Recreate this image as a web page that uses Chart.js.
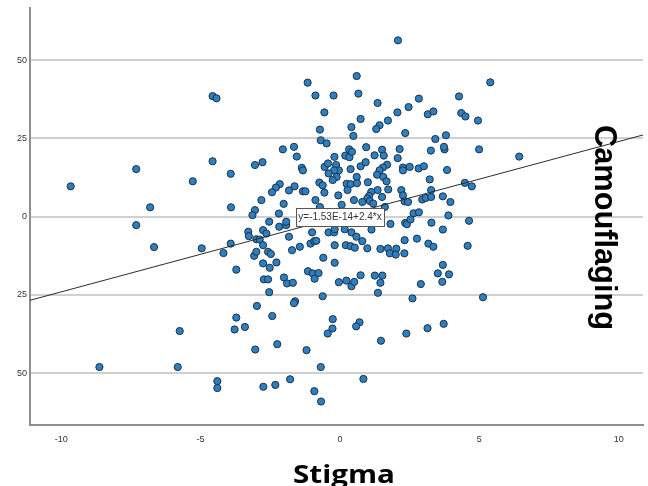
<!DOCTYPE html>
<html>
<head>
<meta charset="utf-8">
<script src="https://cdn.jsdelivr.net/npm/chart.js@4/dist/chart.umd.min.js"></script>
<style>
html, body { margin: 0; padding: 0; background: #fff; }
canvas { display: block; }
</style>
</head>
<body>
<canvas id="grafico" width="648" height="486"></canvas>
<script>
// valores (Stigma en x, Camouflaging en y)
const stigma = [
    -9.66, -7.31, -6.81, -7.31, -5.28, -4.57, -4.43, -4.57, -6.67, -4.96, -5.75, -8.63, -5.82, -4.40, -4.40,
    -1.16, -0.88, -0.23, -0.56, -0.72, 0.41, -0.69, -0.48, -2.05, -1.65, -1.55, 0.33, 0.19, 0.34, -0.20,
    -3.05, -2.78, -3.92, -1.37, -1.33, -0.55, -0.43, -0.14, -0.04, -0.21, -0.41, -0.12, -0.26, 0.38,
    -2.16, -2.30, -2.44, -1.83, -1.63, -1.33, -1.24, -0.74, -0.62, -0.56, -0.06, 0.24, 0.38, 0.27,
    -2.82, -2.02, -3.91, -0.88, 0.06, -3.05, -3.14, -2.19, -0.72,
    2.08, 0.60, 0.66, 5.39, 1.35, 2.83, 4.27, 2.46, 2.06, 3.15, 3.35, 4.35, 4.50, 4.95, 0.74, 1.72,
    1.42, 1.30, 0.48, 2.34, 3.42, 3.80, 0.43, 0.94, 1.51, 1.57, 1.24, 2.14, 2.07, 3.26, 3.75, 3.73,
    4.99, 6.43, 0.74, 0.92, 1.69, 1.54, 1.42, 1.33, 1.55, 1.67, 2.26, 2.26, 2.50, 2.82, 3.01, 3.84,
    3.22, 0.60, 0.61, 1.00, 1.73, 2.20, 2.26, 2.32, 2.44, 1.35, 1.12, 1.04, 0.98, 1.51, 0.80, 1.07,
    1.19, 1.61, 2.95, 3.08, 3.27, 3.27, 3.69, 3.96, 4.48, 4.73, 2.64, 2.83, 3.89, 0.50,
    -2.54, -2.18, -1.93, -1.93, -3.29, -3.27, -2.76, -2.64, -3.00, -2.88, -2.76, -3.92, -4.18, -3.08,
    -3.00, -2.58, -2.48, -2.76, -2.28, -2.52, -3.72, -1.83, -1.72, -1.44, -1.06, -0.92, -0.85, -0.60,
    -0.19, 0.21, 0.38, -0.19, -1.00, -0.41, -0.21, -0.19, 0.17, 0.41, -2.73, -2.58, -2.54, -2.01,
    -1.90, -1.69, -1.15, -0.98, -0.77, -0.91, -0.04, 0.23, 0.41, -0.62, -2.98, -1.61, -1.65, -2.43,
    -3.72, -3.78, -3.41, -0.26, -0.27, -0.44, -3.04, -2.25, -1.20, -0.69, -2.75, -2.32, -1.79, -0.92, -0.68,
    4.63, 1.81, 2.34, 2.40, 2.53, 3.28, 3.69, 1.13, 0.59, 0.80, 0.53, 1.45, 1.72, 2.02, 1.79, 2.00,
    2.31, 2.32, 2.76, 3.17, 3.35, 4.58, 3.69, 3.51, 3.91, 3.67, 2.90, 2.60, 5.13, 0.51, 0.74, 1.25,
    1.52, 1.45, 1.36, 0.70, 0.58, 1.47, 2.38, 3.14, 3.72, 0.84, 0.98
];
const camouflaging = [
    9.7, 15.2, 3.0, -2.7, 11.3, 38.5, 37.8, 17.7, -9.7, -10.1, -36.5, -48.0, -48.0, -52.5, -54.7,
    42.8, 38.7, 38.7, 33.3, 27.8, 28.6, 24.4, 23.4, 21.5, 22.3, 19.2, 21.5, 19.5, 19.0, 19.1,
    16.5, 17.4, 13.7, 15.6, 14.8, 15.9, 17.0, 16.5, 14.8, 14.8, 13.8, 12.7, 11.7, 15.2,
    10.4, 9.3, 7.8, 8.4, 9.7, 8.1, 8.1, 10.9, 10.0, 7.7, 6.8, 10.5, 10.4, 8.5,
    5.3, 4.1, 3.0, 5.3, 3.8, 2.1, 0.5, 1.0, 3.1,
    56.3, 44.9, 39.3, 42.9, 36.3, 37.7, 38.4, 35.0, 33.3, 32.7, 33.6, 33.1, 32.0, 30.7, 31.2, 30.7,
    29.2, 28.0, 25.8, 26.7, 24.8, 26.0, 20.7, 22.2, 21.4, 19.5, 19.6, 21.6, 18.7, 21.1, 21.5, 22.3,
    21.5, 19.2, 16.1, 17.4, 16.6, 15.7, 14.8, 13.4, 12.7, 11.3, 15.7, 14.8, 15.9, 15.4, 16.1, 14.9,
    11.9, 12.7, 10.7, 11.0, 8.7, 8.5, 6.8, 4.9, 4.7, 8.5, 7.9, 6.6, 5.8, 6.3, 4.7, 5.0,
    4.2, 3.1, 5.5, 6.0, 6.3, 8.5, 6.5, 4.7, 10.8, 9.7, 1.1, 1.4, 0.4, 5.3,
    -1.6, -3.2, -2.7, -1.6, -4.8, -6.2, -4.3, -5.4, -7.2, -7.3, -9.1, -8.6, -11.6, -12.5,
    -11.2, -11.2, -11.9, -14.9, -14.6, -16.3, -16.9, -6.4, -10.7, -9.6, -8.6, -7.8, -7.7, -13.1,
    -9.1, -9.1, -9.4, -14.7, -5.0, -5.0, -5.0, -4.0, -4.0, -5.0, -20.0, -20.0, -24.1, -19.4,
    -21.3, -21.1, -17.4, -18.1, -18.0, -19.8, -20.9, -20.4, -22.2, -25.4, -28.5, -27.0, -27.6, -31.7,
    -32.2, -36.0, -35.2, -32.7, -35.7, -37.3, -42.4, -40.7, -42.6, -48.0, -54.3, -53.7, -51.9, -55.7, -59.0,
    -1.3, -2.3, -2.0, -2.4, -0.9, -1.9, -4.1, -4.1, -6.4, -7.8, -9.9, -10.3, -10.1, -10.2, -11.7, -12.1,
    -11.7, -7.5, -7.0, -8.6, -9.6, -9.3, -15.4, -18.1, -18.4, -20.8, -21.5, -26.1, -25.7, -20.8, -18.7, -18.8,
    -18.8, -21.1, -24.3, -33.7, -35.0, -39.6, -37.3, -35.6, -34.2, -51.8, -10.1
];

const xTicks = [-10, -5, 0, 5, 10];
const xTickLabels = ['-10', '-5', '0', '5', '10'];
const yTicks = [-50, -25, 0, 25, 50];
const yTickLabels = ['50', '25', '0', '25', '50'];
const xRange = [-11.12, 10.87];
const yRange = [-66.5, 66.5];

const regIntercept = -1.53e-14;
const regSlope = 2.4;
const regLabel = 'y=-1.53E-14+2.4*x';
const xTitle = 'Stigma';
const yTitle = 'Camouflaging';

const puntos = stigma.map((v, i) => ({ x: v, y: camouflaging[i] }));
const recta = xRange.map(v => ({ x: v, y: regIntercept + regSlope * v }));

const textos = {
    id: 'textos',
    afterDatasetsDraw(chart) {
        const ctx = chart.ctx;
        const cx = chart.scales.x.getPixelForValue(0);
        const cy = chart.scales.y.getPixelForValue(regIntercept);
        ctx.save();
        ctx.font = '10px "Liberation Sans", Arial, sans-serif';
        const w = ctx.measureText(regLabel).width + 5;
        const h = 18;
        ctx.fillStyle = '#fff';
        ctx.strokeStyle = '#555';
        ctx.lineWidth = 1;
        ctx.fillRect(Math.round(cx - w / 2) + 0.5, Math.round(cy - h / 2) + 0.5, Math.round(w), h);
        ctx.strokeRect(Math.round(cx - w / 2) + 0.5, Math.round(cy - h / 2) + 0.5, Math.round(w), h);
        ctx.fillStyle = '#333';
        ctx.textAlign = 'center';
        ctx.textBaseline = 'middle';
        ctx.fillText(regLabel, cx, cy + 1);
        ctx.restore();
    },
    afterDraw(chart) {
        const ctx = chart.ctx;
        ctx.save();
        ctx.fillStyle = '#000';
        // titulo vertical
        ctx.font = 'bold 31px "Liberation Sans", Arial, sans-serif';
        ctx.translate(595, 125);
        ctx.rotate(Math.PI / 2);
        ctx.textAlign = 'left';
        ctx.textBaseline = 'alphabetic';
        const wy = ctx.measureText(yTitle).width;
        ctx.scale(205 / wy, 1);
        ctx.fillText(yTitle, 0, 0);
        ctx.restore();

        ctx.save();
        ctx.fillStyle = '#000';
        ctx.font = 'bold 25px "Open Sans", sans-serif';
        ctx.textAlign = 'center';
        ctx.textBaseline = 'alphabetic';
        const wx = ctx.measureText(xTitle).width;
        ctx.translate(344, 483);
        ctx.scale(102 / wx, 1);
        ctx.fillText(xTitle, 0, 0);
        ctx.restore();
    }
};

const fuenteTicks = { family: '"Liberation Sans", Arial, sans-serif', size: 9 };

new Chart(document.getElementById('grafico').getContext('2d'), {
    data: {
        datasets: [{
            type: 'line',
            data: recta,
            borderColor: '#2b2b2b',
            borderWidth: 1,
            pointRadius: 0,
            fill: false,
            order: 0
        }, {
            type: 'scatter',
            data: puntos,
            backgroundColor: '#2d7fc0',
            borderColor: '#1b3147',
            borderWidth: 1,
            pointRadius: 3.6,
            order: 1
        }]
    },
    options: {
        responsive: false,
        animation: false,
        events: [],
        layout: { padding: { top: 8, right: 0, bottom: 0, left: 0 } },
        plugins: {
            legend: { display: false },
            tooltip: { enabled: false }
        },
        scales: {
            x: {
                type: 'linear',
                min: xRange[0],
                max: xRange[1],
                afterBuildTicks: s => { s.ticks = xTicks.map(v => ({ value: v })); },
                afterFit: s => { s.height = 61; },
                grid: { display: false, drawTicks: false },
                border: { display: true, color: '#8f8f8f', width: 2 },
                ticks: {
                    padding: 9,
                    color: '#333',
                    font: fuenteTicks,
                    maxRotation: 0,
                    autoSkip: false,
                    callback: v => xTickLabels[xTicks.indexOf(v)]
                }
            },
            y: {
                type: 'linear',
                min: yRange[0],
                max: yRange[1],
                afterBuildTicks: s => { s.ticks = yTicks.map(v => ({ value: v })); },
                afterFit: s => { s.width = 30; },
                grid: { color: '#d0d0d0', lineWidth: 2, drawTicks: false },
                border: { display: true, color: '#8f8f8f', width: 2 },
                ticks: {
                    padding: 3,
                    color: '#333',
                    font: fuenteTicks,
                    autoSkip: false,
                    callback: v => yTickLabels[yTicks.indexOf(v)]
                }
            }
        }
    },
    plugins: [textos]
});
</script>
</body>
</html>
